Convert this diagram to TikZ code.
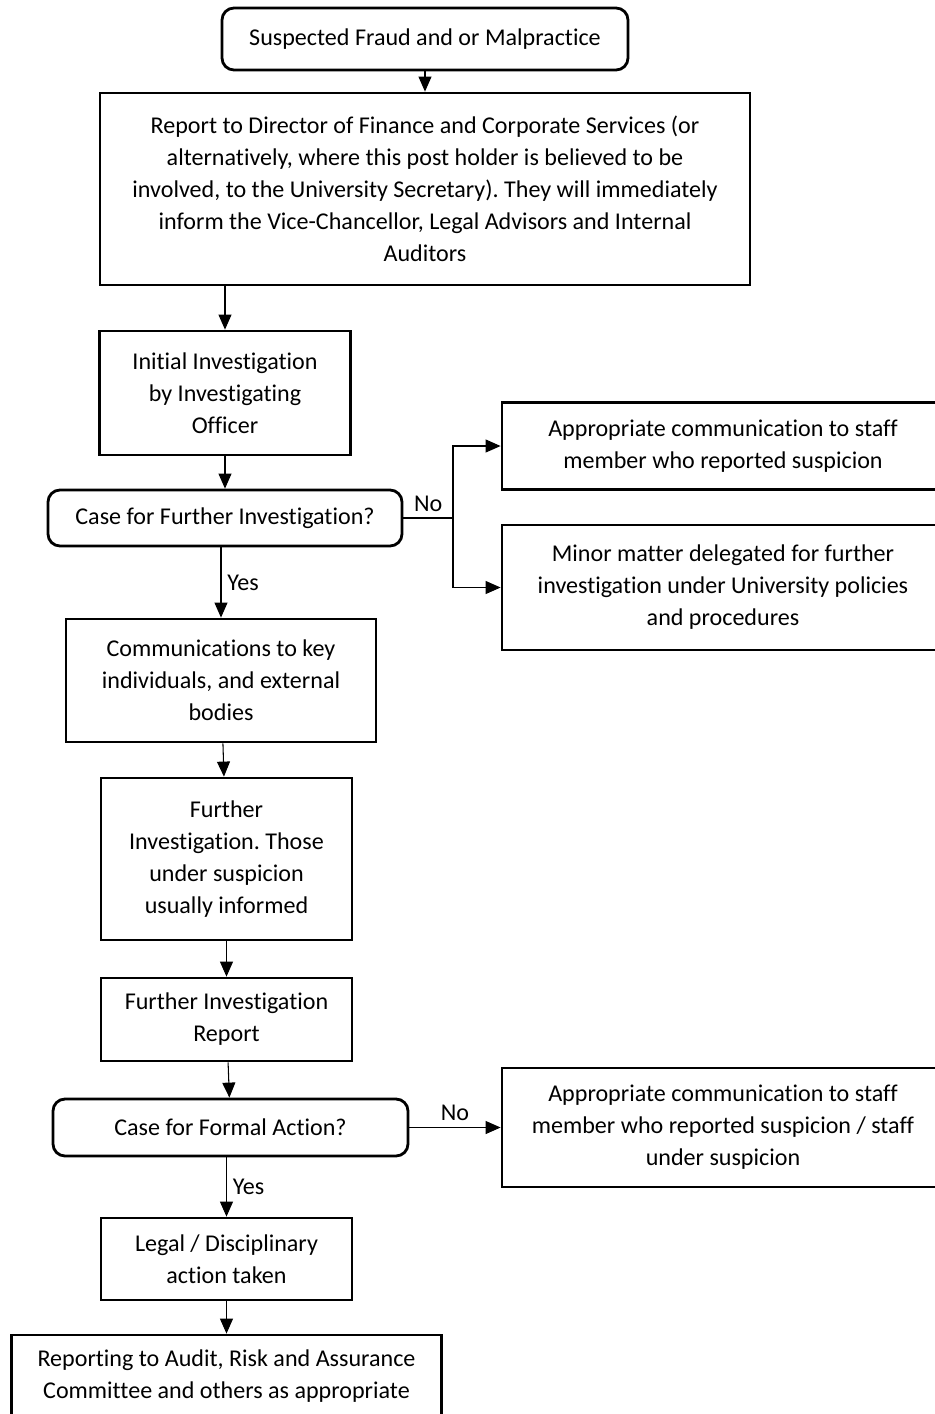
\documentclass[tikz,border=0pt]{standalone}
\usepackage{fontspec}
\setmainfont{Carlito}[Ligatures={NoCommon}]
\frenchspacing
\usepackage{tikz}
\usetikzlibrary{shapes,arrows.meta}
\tikzstyle{blockRD} = [rectangle, draw, line width=1.6pt, rounded corners=0.24cm, align=center, inner sep=0pt]
\tikzstyle{blockSQ} = [rectangle, draw, line width=1.6pt, align=center, inner sep=0pt]
\tikzstyle{line} = [draw, line width=0.6pt, -{Triangle[length=0.3cm,width=0.26cm]}]
\tikzstyle{wire} = [draw, line width=0.6pt]

\begin{document}
\begin{tikzpicture}[node distance = 2cm, auto,
  % todo el texto con la misma fuente (Carlito, como Calibri)
  font=\fontsize{13.7}{18.2}\selectfont
  ]
    \useasboundingbox (-8.5,0.78) rectangle (10.2,-27.5);

    % nodes
    \node [blockRD, minimum width=8.12cm, minimum height=1.24cm] (suspected) {Suspected Fraud and or Malpractice};
    \node [blockSQ, below of = suspected, node distance = 3cm, minimum width=13cm, minimum height=3.84cm] (report_dir) {Report to Director of Finance and Corporate Services (or\\ alternatively, where this post holder is believed to be\\ involved, to the University Secretary). They will immediately\\ inform the Vice-Chancellor, Legal Advisors and Internal\\ Auditors};
    \node [blockSQ, below of = report_dir, node distance = 4.08cm, xshift=-4cm, minimum width=5.02cm, minimum height=2.48cm] (initial) {Initial Investigation\\ by Investigating\\ Officer};
    \node [blockRD, below of = initial, node distance = 2.5cm, minimum width=7.08cm, minimum height=1.12cm] (case_further) {Case for Further Investigation?};
    \node [blockSQ, below of = case_further, node distance = 3.25cm, xshift=-0.08cm, minimum width=6.2cm, minimum height=2.46cm] (comms) {Communications to key\\ individuals, and external\\ bodies};
    \node [blockSQ, below of = comms, node distance = 3.57cm, xshift=0.11cm, minimum width=5.02cm, minimum height=3.24cm] (further) {Further\\ Investigation. Those\\ under suspicion\\ usually informed};
    \node [blockSQ, below of = further, node distance = 3.21cm, minimum width=5.02cm, minimum height=1.66cm] (further_rep) {Further Investigation\\ Report};
    \node [blockRD, below of = further_rep, node distance = 2.16cm, xshift=0.08cm, minimum width=7.1cm, minimum height=1.14cm] (case_formal) {Case for Formal Action?};
    \node [blockSQ, below of = case_formal, node distance = 2.63cm, xshift=-0.08cm, minimum width=5.02cm, minimum height=1.64cm] (legal) {Legal / Disciplinary\\ action taken};
    \node [blockSQ, below of = legal, node distance = 2.35cm, minimum width=8.6cm, minimum height=1.66cm] (reporting) {Reporting to Audit, Risk and Assurance\\ Committee and others as appropriate};

    \node [blockSQ, right of = case_further, node distance = 9.96cm, yshift=1.44cm, minimum width=8.84cm, minimum height=1.74cm] (comm_staff) {Appropriate communication to staff\\ member who reported suspicion};
    \node [blockSQ, right of = case_further, node distance = 9.96cm, yshift=-1.39cm, minimum width=8.84cm, minimum height=2.5cm] (minor) {Minor matter delegated for further\\ investigation under University policies\\ and procedures};
    \node [blockSQ, right of = case_formal, node distance = 9.85cm, minimum width=8.84cm, minimum height=2.38cm] (comm_both) {Appropriate communication to staff\\ member who reported suspicion / staff\\ under suspicion};
    \coordinate [right of = case_further, node distance = 4.56cm] (split);

    % edges
    \path [line] (suspected) -- (report_dir);
    \path [line] (report_dir.south -| initial) -- (initial);
    \path [line] (initial) -- (case_further);
    \path [wire] (case_further) -- node[midway,above] {No} (split);
    \path [line] (split) |- (comm_staff.west);
    \path [line] (split) |- (minor.west);
    \path [line] (case_further.south -| comms) -- node[midway,right] {Yes} (comms);
    \path [line] (comms) -- (further);
    \path [line] (further) -- (further_rep);
    \path [line] (further_rep) -- (case_formal);
    \path [line] (case_formal) -- node[midway,above] {No} (comm_both);
    \path [line] (case_formal.south -| legal) -- node[midway,right] {Yes} (legal);
    \path [line] (legal) -- (reporting);

  \end{tikzpicture}
\end{document}
